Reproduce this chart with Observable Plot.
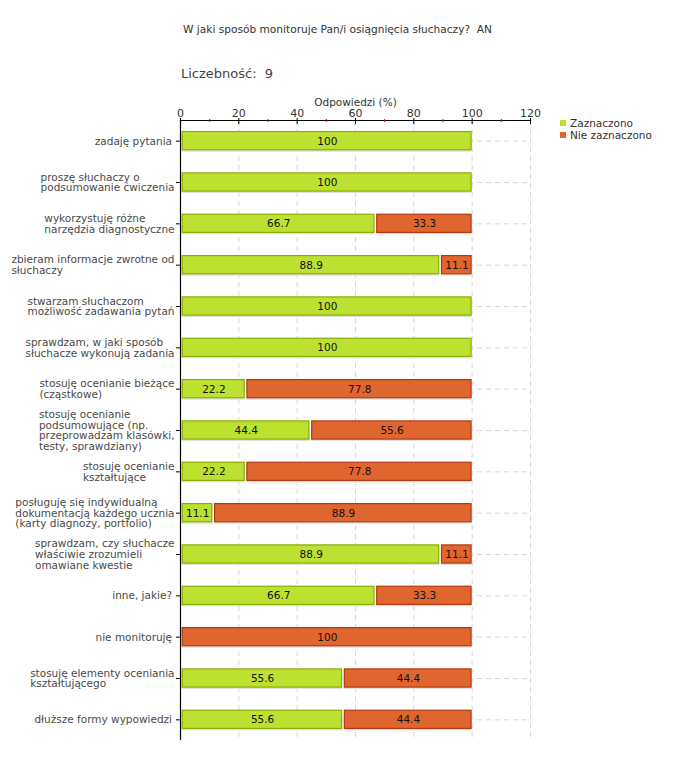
<!DOCTYPE html>
<html>
<head>
<meta charset="utf-8">
<script src="https://cdn.jsdelivr.net/npm/d3@7"></script>
<script src="https://cdn.jsdelivr.net/npm/@observablehq/plot@0.6"></script>
<style>
  html, body { margin: 0; padding: 0; background: #fff; overflow: hidden; }
  #wrap { position: relative; width: 680px; height: 760px; font-family: "DejaVu Sans", sans-serif; }
  #title { position: absolute; left: 183px; top: 23px; font-size: 10.6px; color: #333; white-space: pre; }
  #count { position: absolute; left: 181px; top: 66px; font-size: 13px; color: #444; white-space: pre; }
  #legend { position: absolute; left: 560px; top: 117px; font-size: 10.5px; color: #333; }
  #legend div { height: 12px; line-height: 12px; white-space: nowrap; }
  #legend span.sw { display: inline-block; width: 6px; height: 6px; margin-right: 4px; vertical-align: 1px; }
  #chart { position: absolute; left: 0; top: 0; }
</style>
</head>
<body>
<div id="wrap">
  <div id="chart"></div>
  <div id="title"></div>
  <div id="count"></div>
  <div id="legend"></div>
</div>
<script>
const titleText = "W jaki sposób monitoruje Pan/i osiągnięcia słuchaczy?  AN";
const countText = "Liczebność:  9";
const axisLabel = "Odpowiedzi (%)";

const categories = [
  "zadaję pytania",
  "proszę słuchaczy o\npodsumowanie ćwiczenia",
  "wykorzystuję różne\nnarzędzia diagnostyczne",
  "zbieram informacje zwrotne od\nsłuchaczy",
  "stwarzam słuchaczom\nmożliwość zadawania pytań",
  "sprawdzam, w jaki sposób\nsłuchacze wykonują zadania",
  "stosuję ocenianie bieżące\n(cząstkowe)",
  "stosuję ocenianie\npodsumowujące (np.\nprzeprowadzam klasówki,\ntesty, sprawdziany)",
  "stosuję ocenianie\nkształtujące",
  "posługuję się indywidualną\ndokumentacją każdego ucznia\n(karty diagnozy, portfolio)",
  "sprawdzam, czy słuchacze\nwłaściwie zrozumieli\nomawiane kwestie",
  "inne, jakie?",
  "nie monitoruję",
  "stosuję elementy oceniania\nkształtującego",
  "dłuższe formy wypowiedzi"
];

const seriesNames = ["Zaznaczono", "Nie zaznaczono"];
const zaznaczono =    [100, 100, 66.7, 88.9, 100, 100, 22.2, 44.4, 22.2, 11.1, 88.9, 66.7, 0, 55.6, 55.6];
const nieZaznaczono = [0,   0,   33.3, 11.1, 0,   0,   77.8, 55.6, 77.8, 88.9, 11.1, 33.3, 100, 44.4, 44.4];

const majorTicks = [0, 20, 40, 60, 80, 100, 120];
const minorTicks = [10, 30, 50, 70, 90, 110];

const fills = ["#bde130", "#e0652f"];
const strokes = ["#8cad00", "#b03c0c"];

// long table with stacked extents
const rows = [];
categories.forEach((c, i) => {
  const vals = [zaznaczono[i], nieZaznaczono[i]];
  let acc = 0;
  vals.forEach((v, s) => {
    if (v > 0) rows.push({cat: c, series: seriesNames[s], s, value: v, x1: acc, x2: acc + v});
    acc += v;
  });
});

// measure label widths for left-aligned multi-line blocks
const ctx = document.createElement("canvas").getContext("2d");
ctx.font = "10.5px 'DejaVu Sans'";
const labelWidth = (c) => d3.max(c.split("\n"), l => ctx.measureText(l).width);

const labelMarks = categories.map(c => Plot.text([c], {
  y: d => d,
  text: d => d,
  frameAnchor: "left",
  textAnchor: "start",
  lineAnchor: "middle",
  lineHeight: 1.02,
  dx: -((c.includes("\n") ? 6 : 8.5) + labelWidth(c)),
  fill: "#4a4a4a",
  fontSize: 10.5
}));

const chart = Plot.plot({
  width: 680,
  height: 760,
  marginTop: 120,
  marginBottom: 20,
  marginLeft: 180,
  marginRight: 150,
  style: {fontFamily: "DejaVu Sans, sans-serif", fontSize: "10.5px", color: "#333", background: "transparent"},
  x: {domain: [0, 120], axis: null},
  y: {domain: categories, axis: null, paddingInner: 0.56, paddingOuter: 0.28, round: false},
  marks: [
    Plot.gridX({ticks: majorTicks.slice(1), stroke: "#d6d6d6", strokeOpacity: 1, strokeDasharray: "5,4"}),
    Plot.gridY({stroke: "#d6d6d6", strokeOpacity: 1, strokeDasharray: "5,4"}),
    // shadows
    Plot.barX(rows, {x1: "x1", x2: "x2", y: "cat", fill: "#e2e2e2", dy: 2, insetLeft: 1.5, insetRight: 0}),
    ...seriesNames.map((name, s) => Plot.barX(rows.filter(r => r.s === s), {
      x1: "x1", x2: "x2", y: "cat",
      fill: fills[s], stroke: strokes[s], strokeWidth: 1.2,
      insetLeft: 2.2, insetRight: 0.6
    })),
    Plot.text(rows, {x: d => (d.x1 + d.x2) / 2, y: "cat", text: d => String(d.value), fill: "#111", fontSize: 10.5, dx: 1}),
    // axis lines
    Plot.ruleX([0], {stroke: "#000", strokeWidth: 1.2}),
    Plot.frame({anchor: "top", stroke: "#000", strokeWidth: 1.2}),
    // x axis ticks
    Plot.axisX({anchor: "top", ticks: majorTicks, tickSize: 6, dy: 3, tickFormat: () => "", label: null, stroke: "#000"}),
    Plot.axisX({anchor: "top", ticks: minorTicks, tickSize: 3, dy: 1, tickFormat: () => "", label: null, stroke: "#e00000"}),
    Plot.axisX({anchor: "top", ticks: majorTicks, tickSize: 0, tickPadding: 4, label: null, fill: "#333", fontSize: 11}),
    Plot.text([axisLabel], {frameAnchor: "top", dy: -22, text: d => d, fill: "#333", fontSize: 10.5}),
    // y ticks
    Plot.axisY({tickSize: 4, tickFormat: () => "", label: null, stroke: "#000"}),
    ...labelMarks
  ]
});

document.getElementById("chart").appendChild(chart);
document.getElementById("title").textContent = titleText;
document.getElementById("count").textContent = countText;
const legend = document.getElementById("legend");
seriesNames.forEach((name, s) => {
  const row = document.createElement("div");
  const sw = document.createElement("span");
  sw.className = "sw";
  sw.style.background = fills[s];
  row.appendChild(sw);
  row.appendChild(document.createTextNode(name));
  legend.appendChild(row);
});
</script>
</body>
</html>
